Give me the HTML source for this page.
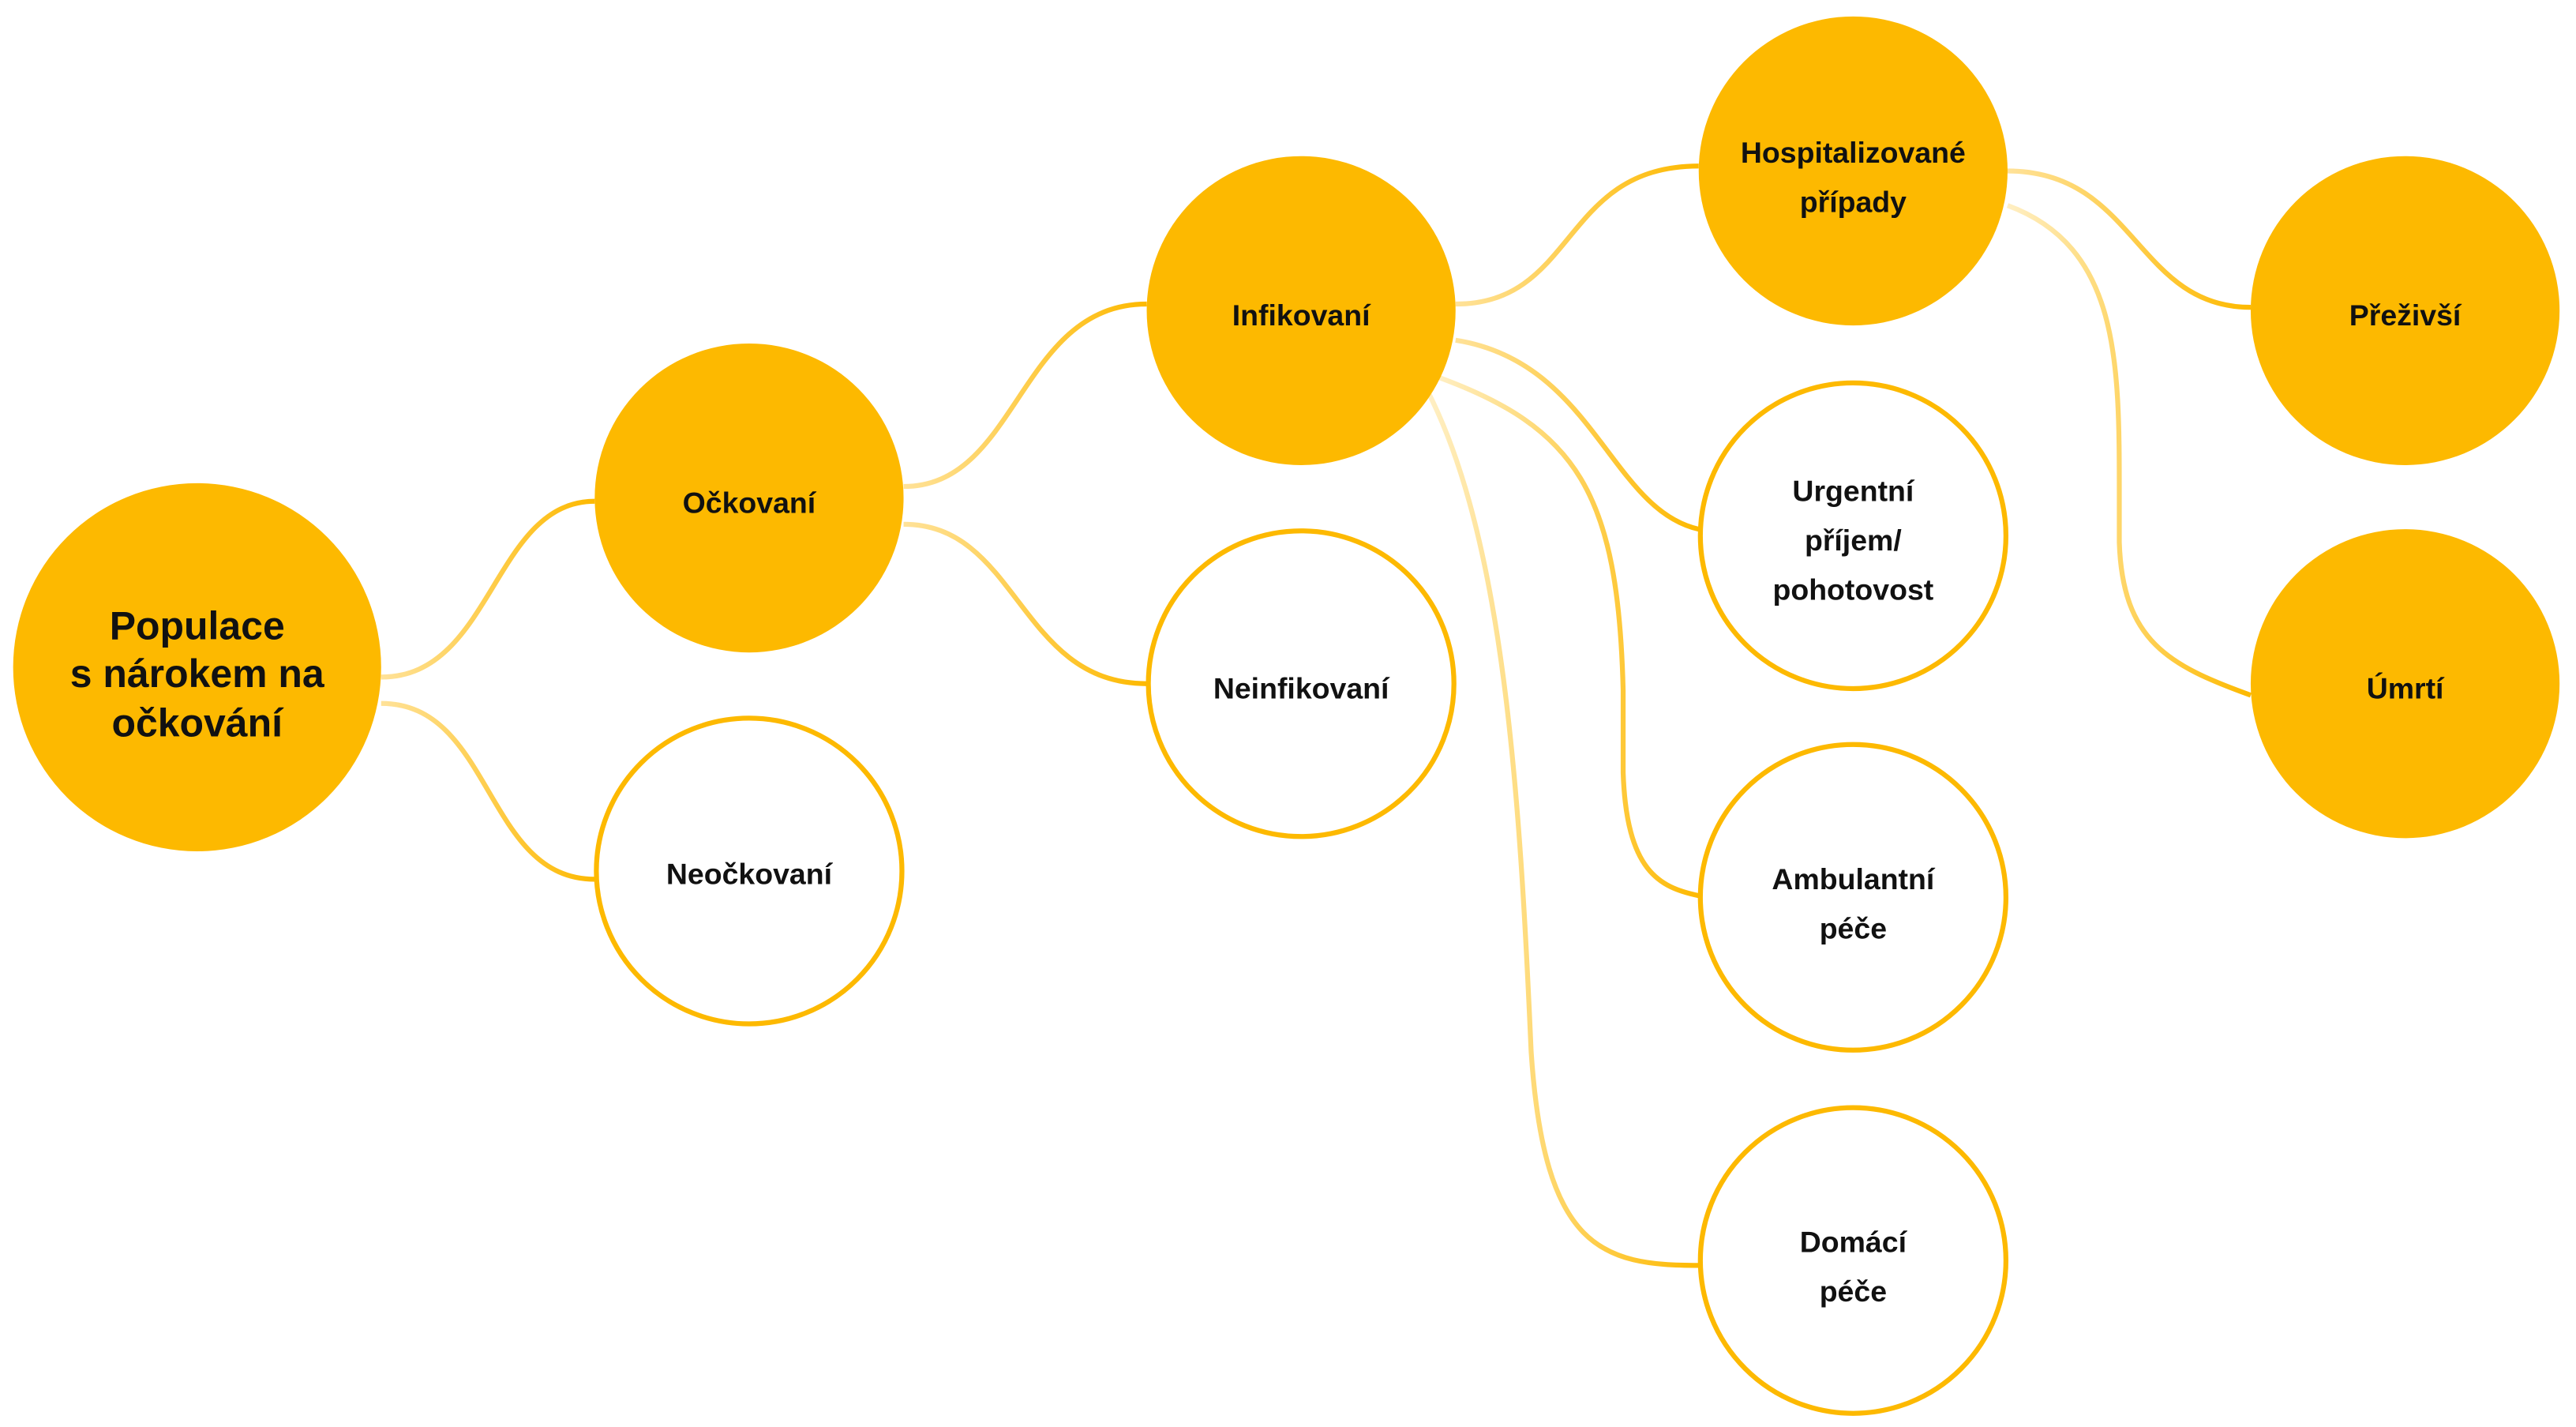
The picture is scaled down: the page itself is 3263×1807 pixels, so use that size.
<!DOCTYPE html>
<html><head><meta charset="utf-8"><style>
html,body{margin:0;padding:0;background:#fff;}
svg{display:block}
text{font-family:"Liberation Sans",sans-serif;font-weight:bold;fill:#111;text-anchor:middle}
</style></head><body>
<svg width="3263" height="1807" viewBox="0 0 1568 868.3" xmlns="http://www.w3.org/2000/svg">
<defs>
<linearGradient id="g1" x1="0" y1="0" x2="1" y2="0"><stop offset="0" stop-color="#FFE299"/><stop offset="1" stop-color="#FDB900"/></linearGradient>
<linearGradient id="g2" x1="0" y1="0" x2="1" y2="0"><stop offset="0" stop-color="#FFEFC4"/><stop offset="1" stop-color="#FDB900"/></linearGradient>
</defs>
<g fill="none" stroke-width="3">
<path d="M232,412 C300,412 300,305 362,305" stroke="url(#g1)"/>
<path d="M232,428 C300,428 295,535 362,535" stroke="url(#g1)"/>
<path d="M550,296 C620,296 620,185 698,185" stroke="url(#g1)"/>
<path d="M550,319 C620,319 620,416 698,416" stroke="url(#g1)"/>
<path d="M886,185 C960,185 950,101 1034,101" stroke="url(#g1)"/>
<path d="M886,207 C970,220 980,310 1034,322" stroke="url(#g1)"/>
<path d="M874,229 C960,260 985,300 988,420 L988,470 C990,530 1010,540 1034,545" stroke="url(#g2)"/>
<path d="M870,240 C915,330 925,480 932,640 C940,760 975,770 1034,770" stroke="url(#g2)"/>
<path d="M1222,104 C1300,104 1300,187 1370,187" stroke="url(#g1)"/>
<path d="M1222,125 C1290,150 1290,220 1290,300 L1290,330 C1292,390 1320,405 1370,423" stroke="url(#g2)"/>
</g>
<g fill="#FDB900">
<circle cx="120" cy="406" r="112"/>
<circle cx="456" cy="303" r="94"/>
<circle cx="792" cy="189" r="94"/>
<circle cx="1128" cy="104" r="94"/>
<circle cx="1464" cy="189" r="94"/>
<circle cx="1464" cy="416" r="94"/>
</g>
<g fill="#fff" stroke="#FDB900" stroke-width="3">
<circle cx="456" cy="530" r="93"/>
<circle cx="792" cy="416" r="93"/>
<circle cx="1128" cy="326" r="93"/>
<circle cx="1128" cy="546" r="93"/>
<circle cx="1128" cy="767" r="93"/>
</g>
<g font-size="24">
<text x="120" y="389">Populace</text>
<text x="120" y="418">s nárokem na</text>
<text x="120" y="448">očkování</text>
</g>
<g font-size="18">
<text x="456" y="312">Očkovaní</text>
<text x="456" y="538">Neočkovaní</text>
<text x="792" y="198">Infikovaní</text>
<text x="792" y="425">Neinfikovaní</text>
<text x="1128" y="99">Hospitalizované</text>
<text x="1128" y="129">případy</text>
<text x="1464" y="198">Přeživší</text>
<text x="1464" y="425">Úmrtí</text>
<text x="1128" y="305">Urgentní</text>
<text x="1128" y="335">příjem/</text>
<text x="1128" y="365">pohotovost</text>
<text x="1128" y="541">Ambulantní</text>
<text x="1128" y="571">péče</text>
<text x="1128" y="762">Domácí</text>
<text x="1128" y="792">péče</text>
</g>
</svg>
</body></html>
